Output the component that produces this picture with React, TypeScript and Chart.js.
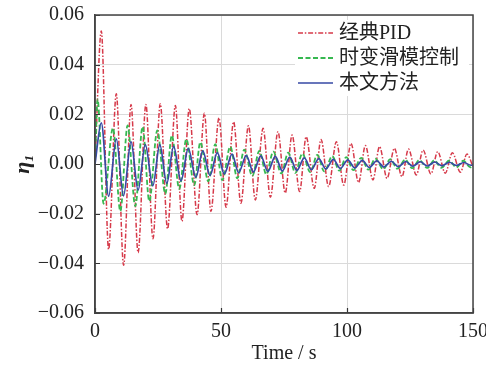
import React, { useEffect, useRef } from 'react';
import { Chart, registerables } from 'chart.js';

Chart.register(...registerables);

const seriesLabels = ['经典PID', '时变滑模控制', '本文方法'];

// Extrema (time in s, value of eta_1)
const pidTime = [0, 2.5, 5.4, 8.45, 11.35, 14.3, 17.1, 20.2, 23.0, 25.9, 28.8, 31.9, 34.5, 37.4, 40.5, 43.4, 46.0, 49.2, 52.0, 55.0, 57.9, 60.9, 63.6, 66.7, 69.6, 72.6, 75.5, 78.2, 81.2, 83.8, 87.0, 89.7, 92.7, 95.8, 98.7, 101.6, 104.6, 107.3, 110.3, 112.9, 115.9, 118.8, 121.8, 124.4, 127.5, 130.2, 133.3, 136.0, 139.0, 141.8, 145.0, 147.6, 150];
const pidValue = [0, 0.0536, -0.0344, 0.0283, -0.0408, 0.024, -0.0357, 0.024, -0.0301, 0.0243, -0.0261, 0.0236, -0.0231, 0.0223, -0.0204, 0.0204, -0.0191, 0.0186, -0.0174, 0.017, -0.0158, 0.0154, -0.0145, 0.0144, -0.0134, 0.013, -0.0117, 0.0117, -0.0111, 0.011, -0.0098, 0.0099, -0.0091, 0.009, -0.0085, 0.0083, -0.0075, 0.0074, -0.0064, 0.007, -0.0058, 0.0063, -0.0051, 0.006, -0.0044, 0.0056, -0.004, 0.005, -0.0037, 0.0045, -0.0033, 0.004, -0.001];

const smcTime = [0, 1.03, 3.4, 7.14, 10.04, 12.94, 15.99, 18.89, 21.55, 24.72, 27.9, 30.48, 33.45, 36.23, 39.4, 41.79, 44.96, 47.74, 50.52, 53.69, 56.47, 59.25, 62.42, 65.2, 67.98, 70.75, 73.93, 76.7, 79.48, 82.26, 85.44, 88.21, 91.0, 94.17, 96.94, 99.72, 102.5, 105.67, 108.45, 111.23, 114.4, 117.18, 119.96, 123.13, 125.91, 128.69, 131.87, 134.64, 137.42, 140.6, 143.37, 146.15, 148.93, 150];
const smcValue = [0, 0.026, -0.016, 0.0145, -0.019, 0.0155, -0.017, 0.015, -0.015, 0.0135, -0.012, 0.0115, -0.01, 0.01, -0.0085, 0.0088, -0.007, 0.008, -0.0065, 0.007, -0.0058, 0.0058, -0.0048, 0.0053, -0.0042, 0.005, -0.0038, 0.0046, -0.0036, 0.0042, -0.0033, 0.0037, -0.003, 0.0032, -0.0027, 0.0028, -0.0025, 0.0025, -0.0023, 0.0022, -0.0021, 0.002, -0.0019, 0.0018, -0.0017, 0.0016, -0.0016, 0.0015, -0.0015, 0.0014, -0.0014, 0.0013, -0.0013, -0.0005];

const oursTime = [0, 2.5, 5.4, 8.45, 11.31, 14.29, 17.1, 19.96, 22.94, 25.71, 28.49, 31.19, 34.13, 37.02, 40.0, 42.78, 45.63, 48.53, 51.31, 54.37, 56.98, 60.04, 62.82, 65.79, 68.57, 71.55, 74.33, 77.3, 80.08, 83.06, 85.83, 88.81, 91.59, 94.56, 97.34, 100.32, 103.1, 106.07, 108.85, 111.83, 114.6, 117.58, 120.36, 123.33, 126.11, 129.09, 131.87, 134.84, 137.62, 140.6, 143.37, 146.35, 149.13, 150];
const oursValue = [0, 0.0166, -0.013, 0.0101, -0.0128, 0.009, -0.0105, 0.0078, -0.0088, 0.0078, -0.0078, 0.0071, -0.0068, 0.0063, -0.0054, 0.0053, -0.0046, 0.0046, -0.004, 0.004, -0.0035, 0.0034, -0.0032, 0.0033, -0.003, 0.0031, -0.0028, 0.0028, -0.0026, 0.0025, -0.0023, 0.0022, -0.002, 0.0019, -0.0018, 0.0017, -0.0016, 0.0015, -0.0014, 0.0013, -0.0012, 0.0011, -0.0011, 0.001, -0.0009, 0.0009, -0.0008, 0.0008, -0.0007, 0.0007, -0.0006, 0.0006, -0.0005, -0.0003];

const xMin = 0;
const xMax = 150;
const xStep = 50;
const yMin = -0.06;
const yMax = 0.06;
const yStep = 0.02;

const SERIF = '"Liberation Serif", "Times New Roman", serif';
const LEGEND_FONT = '20px "Liberation Serif", "Noto Sans CJK SC", serif';

function toPoints(t: number[], v: number[]) {
  return t.map((x, i) => ({ x, y: v[i] }));
}

function fmtY(v: number) {
  const r = Math.round(v * 100) / 100;
  if (Math.abs(r) < 1e-9) return '0.00';
  return (r < 0 ? '\u2212' : '') + Math.abs(r).toFixed(2);
}

export default function App() {
  const ref = useRef<HTMLCanvasElement>(null);

  useEffect(() => {
    const canvas = ref.current;
    if (!canvas) return;

    const framePlugin = {
      id: 'frameAndTicks',
      afterDatasetsDraw(chart: any) {
        const { ctx, chartArea } = chart;
        const xs = chart.scales.x;
        const ys = chart.scales.y;
        ctx.save();
        ctx.strokeStyle = '#333';
        ctx.lineWidth = 1.2;
        // inner ticks
        ctx.beginPath();
        ys.ticks.forEach((t: any) => {
          const py = Math.round(ys.getPixelForValue(t.value)) + 0.5;
          ctx.moveTo(chartArea.left, py);
          ctx.lineTo(chartArea.left + 5, py);
        });
        xs.ticks.forEach((t: any) => {
          const px = Math.round(xs.getPixelForValue(t.value)) + 0.5;
          ctx.moveTo(px, chartArea.bottom);
          ctx.lineTo(px, chartArea.bottom - 5);
        });
        ctx.stroke();
        // box
        ctx.strokeStyle = '#444';
        ctx.lineWidth = 1.5;
        ctx.strokeRect(chartArea.left, chartArea.top, chartArea.right - chartArea.left, chartArea.bottom - chartArea.top);

        // legend
        const lx = chartArea.right - 178;
        const ly = chartArea.top + 5;
        ctx.fillStyle = '#ffffff';
        ctx.fillRect(lx, ly, 174, 76);
        chart.data.datasets.forEach((ds: any, i: number) => {
          const y = ly + 13 + i * 25;
          ctx.save();
          ctx.strokeStyle = ds.borderColor;
          ctx.lineWidth = ds.borderWidth;
          ctx.setLineDash(ds.borderDash || []);
          ctx.beginPath();
          ctx.moveTo(lx + 3, y);
          ctx.lineTo(lx + 38, y);
          ctx.stroke();
          ctx.restore();
          ctx.fillStyle = '#222';
          ctx.font = LEGEND_FONT;
          ctx.textBaseline = 'middle';
          ctx.textAlign = 'left';
          ctx.fillText(ds.label, lx + 44, y + 1);
        });
        ctx.restore();
      },
    };

    const chart = new Chart(canvas, {
      type: 'line',
      data: {
        datasets: [
          {
            label: seriesLabels[0],
            data: toPoints(pidTime, pidValue),
            borderColor: '#d63a4a',
            borderWidth: 1.5,
            borderDash: [5, 1.8, 1.5, 1.8],
            pointRadius: 0,
            cubicInterpolationMode: 'monotone',
            fill: false,
            order: 2,
          },
          {
            label: seriesLabels[1],
            data: toPoints(smcTime, smcValue),
            borderColor: '#36b850',
            borderWidth: 1.8,
            borderDash: [5, 2.5],
            pointRadius: 0,
            cubicInterpolationMode: 'monotone',
            fill: false,
            order: 1,
          },
          {
            label: seriesLabels[2],
            data: toPoints(oursTime, oursValue),
            borderColor: '#3649a4',
            borderWidth: 1.7,
            borderDash: [],
            pointRadius: 0,
            cubicInterpolationMode: 'monotone',
            fill: false,
            order: 0,
          },
        ],
      },
      plugins: [framePlugin],
      options: {
        responsive: false,
        animation: false,
        devicePixelRatio: 1,
        layout: { padding: { left: 0, right: 13, top: 15, bottom: 0 } },
        plugins: {
          legend: { display: false },
          tooltip: { enabled: false },
        },
        scales: {
          x: {
            type: 'linear',
            min: xMin,
            max: xMax,
            ticks: {
              stepSize: xStep,
              color: '#222',
              font: { family: SERIF, size: 20 },
              padding: 7,
              maxRotation: 0,
            },
            grid: { color: '#dadada', lineWidth: 1, drawTicks: false },
            border: { display: true, color: '#444', width: 1.5 },
            title: {
              display: true,
              text: 'Time / s',
              color: '#222',
              font: { family: SERIF, size: 20, lineHeight: 1.0 },
              padding: { top: 0, bottom: 1 },
            },
            afterFit: (s: any) => {
              s.height = 52;
              s.paddingLeft = 0;
              s.paddingRight = 0;
            },
          },
          y: {
            type: 'linear',
            min: yMin,
            max: yMax,
            ticks: {
              stepSize: yStep,
              color: '#222',
              font: { family: SERIF, size: 20 },
              padding: 11,
              callback: (v: any) => fmtY(Number(v)),
            },
            grid: { color: '#dadada', lineWidth: 1, drawTicks: false },
            border: { display: true, color: '#444', width: 1.5 },
            title: {
              display: true,
              text: 'η₁',
              color: '#222',
              font: { family: SERIF, size: 22, style: 'italic', weight: 'bold' },
              padding: { top: 10, bottom: 0 },
            },
            afterFit: (s: any) => {
              s.width = 95;
              s.paddingTop = 0;
              s.paddingBottom = 0;
            },
          },
        },
      },
    } as any);

    return () => chart.destroy();
  }, []);

  return (
    <div style={{ position: 'absolute', left: 0, top: 0, width: 486, height: 365, background: '#fff' }}>
      <canvas ref={ref} width={486} height={365} style={{ width: 486, height: 365, display: 'block' }} />
    </div>
  );
}
